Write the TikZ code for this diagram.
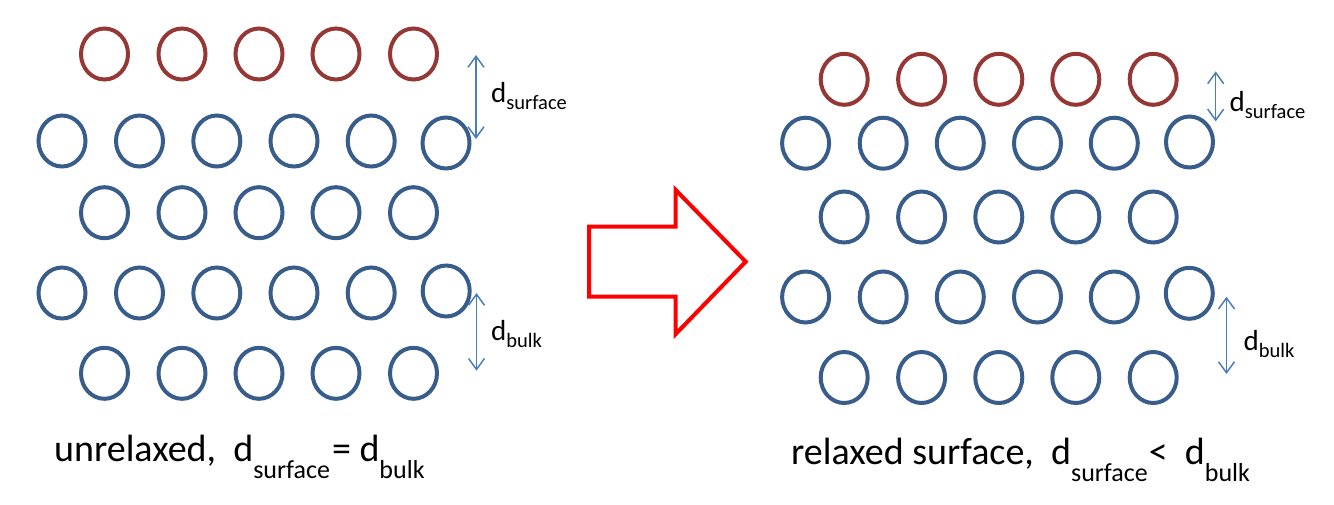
\documentclass[tikz,border=0pt]{standalone}
\usepackage{fontspec}
\setmainfont{Carlito}
\usetikzlibrary{shapes.geometric,arrows.meta}
\definecolor{atomblue}{HTML}{385D8A}
\definecolor{atomred}{HTML}{953735}
\definecolor{dimblue}{HTML}{4A7EBB}
\definecolor{bigred}{HTML}{FF0000}
\tikzset{
  atom/.style={ellipse, draw=atomblue, line width=4pt, minimum width=47pt, minimum height=51pt, inner sep=0pt},
  surfatom/.style={atom, draw=atomred},
  dimline/.style={draw=dimblue, line width=1.5pt, {Straight Barb[length=11pt,width=16pt]}-{Straight Barb[length=11pt,width=16pt]}},
  lab/.style={anchor=base west, inner sep=0pt, text=black},
  bigarrow/.style={draw=bigred, line width=4pt, line join=miter}
}
\newcommand{\dsub}[4]{{\fontsize{#1}{#1}\selectfont d}\raisebox{-#3pt}{\fontsize{#2}{#2}\selectfont #4}}
\begin{document}
\begin{tikzpicture}[x=1pt,y=-1pt]
\useasboundingbox (0,0) rectangle (1334,504);
% ---------- left panel ----------
\foreach \i/\x in {1/104.5,2/182,3/259,4/336,5/413.5}{
  \node[surfatom] (la\i) at (\x,54) {};
  \node[atom] (lc\i) at (\x,212.7) {};
  \node[atom] (le\i) at (\x,373.3) {};
}
\foreach \i/\x in {1/62,2/139.5,3/216.8,4/294,5/371.2}{
  \node[atom] (lb\i) at (\x,141) {};
  \node[atom] (ld\i) at (\x,293) {};
}
\node[atom] (lb6) at (446,143) {};
\node[atom] (ld6) at (446.2,291) {};
% ---------- right panel ----------
\foreach \i/\x in {1/844.2,2/921.6,3/998.8,4/1075.8,5/1153.2}{
  \node[surfatom] (ra\i) at (\x,79.3) {};
  \node[atom] (rc\i) at (\x,217) {};
  \node[atom] (re\i) at (\x,377.5) {};
}
\foreach \i/\x in {1/805.6,2/883.2,3/960.3,4/1037.5,5/1114.3}{
  \node[atom] (rb\i) at (\x,143.2) {};
  \node[atom] (rd\i) at (\x,297) {};
}
\node[atom] (rb6) at (1189.5,142) {};
\node[atom] (rd6) at (1189.3,293.3) {};
% ---------- dimension arrows ----------
\coordinate (lsA) at (476,55);
\coordinate (lsB) at (476,139);
\coordinate (lbA) at (476.5,293);
\coordinate (lbB) at (476.5,370.7);
\coordinate (rsA) at (1215.7,71.4);
\coordinate (rsB) at (1215.7,121.4);
\coordinate (rbA) at (1226.5,296.7);
\coordinate (rbB) at (1226.5,374);
\draw[dimline] (lsA) -- (lsB);
\draw[dimline] (lbA) -- (lbB);
\draw[dimline] (rsA) -- (rsB);
\draw[dimline] (rbA) -- (rbB);
\node[lab] (lsl) at (491,102) {\dsub{29}{20.5}{7}{surface}};
\node[lab] (lbl) at (491,340) {\dsub{29}{20.5}{7}{bulk}};
\node[lab] (rsl) at (1229.5,111) {\dsub{29}{20.5}{7}{surface}};
\node[lab] (rbl) at (1243.5,350) {\dsub{29}{20.5}{7}{bulk}};
% ---------- big arrow ----------
\draw[bigarrow] (589,226.7) -- (675.7,226.7) -- (675.7,190) -- (745.7,261.7) -- (675.7,334) -- (675.7,296.7) -- (589,296.7) -- cycle;
% ---------- captions ----------
\node[lab] (capl) at (54,461) {\fontsize{38}{38}\selectfont unrelaxed,\ \ \dsub{38}{26}{17}{surface}\kern2pt=\ \dsub{38}{26}{17}{bulk}};
\node[lab] (capr) at (791,464) {\fontsize{38}{38}\selectfont relaxed surface,\ \ \dsub{38}{26}{17}{surface}\kern1pt<\ \ \dsub{38}{26}{17}{bulk}};
\end{tikzpicture}
\end{document}
